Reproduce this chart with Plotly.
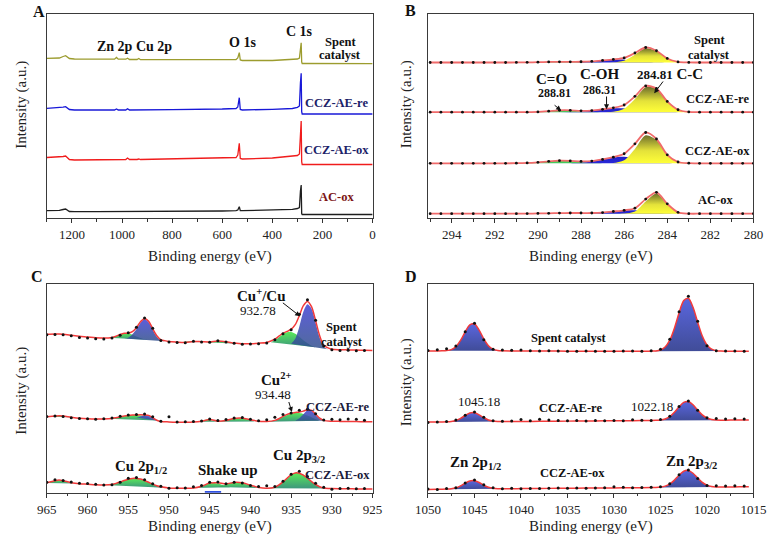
import plotly.graph_objects as go

W, H = 780, 541
FONT = "Liberation Serif"

# ================= Panel A: survey spectra =================
A_ENERGY = [1300, 1250, 1235, 1225, 1210, 1190, 1100, 1030, 1022, 1015, 985, 978, 970, 940, 933, 926,
            800, 600, 545, 538, 532, 528, 520, 400, 320, 300, 292, 288, 285, 283, 281, 270, 150, 0]
A_SPENT = [159.7, 160, 161.5, 162.3, 159.5, 159, 158.8, 158.8, 160.5, 158.8, 158.8, 159.8, 158.5, 158.5, 159.5, 158.3,
           158.3, 158, 158.5, 160, 165.3, 158, 157.5, 157.5, 158.5, 159, 160, 170, 175.3, 156, 154.5, 154.5, 154.3, 154.3]
A_RE = [109.7, 110, 110.8, 111.3, 108.5, 108, 108, 108, 109, 108, 108, 109.3, 108, 108, 108.7, 108,
        108.3, 109, 109.5, 111, 120.3, 108.5, 108, 108.7, 109.5, 110.7, 112, 135, 144.7, 106.3, 104, 104, 104, 104]
A_OX = [60.5, 60.8, 61.5, 62, 58.5, 58, 58.3, 58.5, 59, 58.5, 58.5, 60, 58.5, 58.5, 59, 58.5,
        59, 59.8, 60.5, 63, 74.7, 59.5, 59, 60, 61.5, 62.5, 64, 88, 97, 56.3, 53.5, 53.5, 53.5, 53.5]
A_ACOX = [7.3, 7.6, 8.5, 9, 6.5, 6.3, 6.3, 6.3, 6.6, 6.3, 6.3, 7, 6.3, 6.3, 6.5, 6.3,
          6.5, 7, 7.3, 8, 11.3, 7.3, 7.3, 7.8, 8.7, 9.5, 10.5, 27, 33, 4.5, 3.5, 3.5, 3.5, 3.5]

# ================= Panel B: C 1s =================
B_ENERGY = [295.0, 294.5, 294.0, 293.5, 293.0, 292.5, 292.0, 291.5, 291.0, 290.5, 290.0, 289.5, 289.0, 288.5,
            288.0, 287.5, 287.0, 286.5, 286.0, 285.5, 285.0, 284.5, 284.0, 283.5, 283.0, 282.5, 282.0, 281.5,
            281.0, 280.5, 280.0]
B_BASELINE = [155.5, 105.8, 54.7, 4.3]   # spent, re, ox, AC-ox
B_SPENT = [0, 0, 0, 0, 0, 0, 0, 0, 0.03, 0.15, 0.3, 0.55, 0.7, 0.72, 0.75, 1.15, 2.05, 3.1, 4.6, 9.5, 15.0,
           11.75, 4.05, 0.6, 0.05, 0, 0, 0, 0, 0, 0]
B_RE = [0, 0, 0, 0, 0, 0, 0, 0, 0, 0.04, 0.27, 1.01, 1.89, 1.9, 1.36, 1.67, 2.9, 4.34, 7.22, 15.83, 26.24,
        23.72, 10.8, 2.45, 0.27, 0.02, 0, 0, 0, 0, 0]
B_OX = [0, 0, 0, 0, 0, 0, 0, 0.01, 0.08, 0.35, 1.01, 1.96, 2.58, 2.41, 1.91, 2.24, 3.87, 6.14, 9.57, 19.47,
        30.81, 24.31, 8.46, 1.28, 0.08, 0, 0, 0, 0, 0, 0]
B_ACOX = [0, 0, 0, 0, 0, 0, 0, 0.01, 0.03, 0.09, 0.23, 0.42, 0.62, 0.7, 0.68, 0.7, 1.17, 2.21, 3.39, 5.49,
          14.59, 21.34, 9.87, 1.35, 0.05, 0, 0, 0, 0, 0, 0]

# fitted components (energy, height above baseline)
B_SPENT_CO = ([291, 290.5, 290, 289.5, 289, 288.5, 288, 287.5, 287, 286.5],
              [0, 0.15, 0.3, 0.55, 0.7, 0.65, 0.45, 0.2, 0.05, 0])
B_SPENT_COH = ([289, 288.5, 288, 287.5, 287, 286.5, 286, 285.5, 285, 284.5, 284, 283.5],
               [0, 0.07, 0.3, 0.95, 2.0, 2.9, 2.8, 1.8, 0.8, 0.25, 0.05, 0])
B_SPENT_CC = ([287, 286.5, 286, 285.5, 285, 284.5, 284, 283.5, 283, 282.5],
              [0, 0.2, 1.8, 7.7, 14.2, 11.5, 4.0, 0.6, 0.05, 0])
B_RE_CO = ([291, 290.5, 290, 289.5, 289, 288.5, 288, 287.5, 287, 286.5],
           [0, 0.04, 0.27, 1.01, 1.89, 1.76, 0.82, 0.19, 0.02, 0])
B_RE_COH = ([289, 288.5, 288, 287.5, 287, 286.5, 286, 285.5, 285, 284.5, 284, 283.5, 283],
            [0, 0.14, 0.54, 1.48, 2.85, 3.89, 3.76, 2.57, 1.24, 0.42, 0.1, 0.02, 0])
B_RE_CC = ([287.5, 287, 286.5, 286, 285.5, 285, 284.5, 284, 283.5, 283, 282.5, 282],
           [0, 0.03, 0.45, 3.46, 13.26, 25.0, 23.3, 10.7, 2.43, 0.27, 0.02, 0])
B_OX_CO = ([291.5, 291, 290.5, 290, 289.5, 289, 288.5, 288, 287.5, 287, 286.5, 286],
           [0, 0.08, 0.35, 1.01, 1.96, 2.58, 2.29, 1.38, 0.56, 0.15, 0.03, 0])
B_OX_COH = ([289, 288.5, 288, 287.5, 287, 286.5, 286, 285.5, 285, 284.5, 284, 283.5, 283],
            [0, 0.12, 0.53, 1.68, 3.71, 5.82, 6.45, 5.07, 2.81, 1.11, 0.31, 0.06, 0])
B_OX_CC = ([287.5, 287, 286.5, 286, 285.5, 285, 284.5, 284, 283.5, 283, 282.5],
           [0, 0.01, 0.29, 3.12, 14.4, 28.0, 23.2, 8.15, 1.22, 0.08, 0])
B_ACOX_CO = ([291.5, 291, 290.5, 290, 289.5, 289, 288.5, 288, 287.5, 287, 286.5, 286, 285.5],
             [0, 0.03, 0.09, 0.23, 0.42, 0.62, 0.7, 0.62, 0.42, 0.23, 0.09, 0.03, 0])
B_ACOX_COH = ([288.5, 288, 287.5, 287, 286.5, 286, 285.5, 285, 284.5, 284, 283.5, 283],
              [0, 0.06, 0.28, 0.94, 2.12, 3.26, 3.39, 2.39, 1.14, 0.37, 0.08, 0])
B_ACOX_CC = ([287, 286.5, 286, 285.5, 285, 284.5, 284, 283.5, 283, 282.5],
             [0, 0.0, 0.1, 2.1, 12.2, 20.2, 9.5, 1.27, 0.05, 0])

# ================= Panel C: Cu 2p =================
C_ENERGY = [965, 964, 963.5, 963, 962, 961, 960, 959, 958, 957, 956.5, 956, 955.5, 955, 954.5, 954, 953.5, 953,
            952.5, 952, 951.5, 951, 950, 949, 948, 947, 946, 945, 944, 943, 942, 941, 940, 939, 938, 937, 936.5,
            936, 935.5, 935, 934.5, 934, 933.5, 933, 932.5, 932, 931.5, 931, 930, 929, 928, 927, 926, 925]
C_SPENT_FIT = [158.4, 158.6, 158.8, 158.5, 157.5, 156.5, 155.8, 155.0, 154.6, 155.2, 156.5, 158.3, 159.4, 159.5,
               161, 165, 171, 174.3, 171.5, 164, 157, 153, 151.2, 150.6, 150.3, 151.3, 151.0, 150.8, 151.6, 151.0,
               149.7, 148.9, 149.0, 149.5, 150.3, 153.5, 156.5, 159.5, 161.3, 163.5, 168, 177, 187, 191.3, 186,
               172, 157, 147.5, 143.5, 143, 142.8, 142.6, 142.4, 142.3]
C_RE_FIT = [76.0, 76.6, 76.9, 76.7, 75.5, 74.5, 73.9, 73.6, 73.7, 74.3, 75.0, 75.8, 76.6, 77.2, 77.6, 77.8, 77.9,
            77.8, 77.3, 75.0, 72.5, 71.3, 70.8, 70.5, 70.4, 70.6, 71.5, 73.3, 71.5, 72.3, 74.3, 74.5, 73.0, 71.4,
            71.2, 72.3, 74.0, 76.3, 78.3, 79.5, 80.2, 80.7, 81.6, 83.0, 82.3, 78.5, 74.5, 72.3, 71.5, 71.3, 71.2,
            71.1, 71.0, 71.0]
C_OX_FIT = [10.0, 12.0, 12.6, 12.0, 10.0, 8.9, 8.5, 8.0, 7.8, 8.3, 9.3, 10.7, 12.2, 13.5, 14.3, 14.3, 13.6, 12.2,
            10.4, 8.6, 7.0, 5.9, 4.8, 4.5, 4.4, 4.7, 6.5, 9.6, 10.0, 8.8, 10.3, 9.9, 7.5, 5.2, 4.4, 5.5, 7.8, 10.8,
            14.5, 18.0, 19.8, 19.5, 17.5, 14.5, 11.2, 8.2, 6.0, 4.8, 4.2, 4.0, 3.9, 3.8, 3.7, 3.7]
C_DOT_ENERGY = [965, 964, 963, 962, 961, 960, 959, 958, 957, 956, 955, 954, 953, 952, 951, 950, 949, 948, 947, 946,
                945, 944, 943, 942, 941, 940, 939, 938, 937, 936, 935, 934, 933, 932, 931, 930, 929, 928, 927, 926]
C_SPENT_RAW = [158.0, 158.3, 158.0, 157.0, 155.3, 154.7, 154.0, 153.8, 154.8, 157.5, 160.0, 165.5, 174.8, 164.5,
               152.2, 150.8, 150.3, 150.0, 151.5, 150.6, 150.5, 151.9, 150.7, 149.4, 148.5, 148.6, 149.0, 149.7,
               153.0, 159.0, 163.0, 178.5, 193.0, 172.5, 146.8, 143.0, 142.3, 142.5, 142.0, 142.2]
C_RE_RAW = [76.3, 76.8, 76.2, 75.0, 74.3, 74.0, 73.5, 74.0, 74.8, 76.5, 77.8, 78.2, 78.6, 76.0, 71.5, 76.0, 70.8,
            71.0, 71.2, 71.6, 73.8, 72.3, 73.3, 74.8, 75.3, 73.5, 72.0, 73.0, 75.5, 78.3, 79.8, 82.5, 83.4, 79.0,
            72.8, 73.5, 73.0, 73.8, 73.5, 72.5]
C_OX_RAW = [10.5, 13.0, 12.2, 10.8, 9.5, 9.2, 8.5, 7.8, 8.0, 10.5, 14.5, 15.2, 13.0, 9.0, 6.5, 4.5, 5.0, 4.6, 6.0,
            7.2, 10.5, 10.6, 9.0, 10.5, 9.6, 7.2, 6.2, 7.0, 6.3, 11.5, 18.5, 21.5, 16.3, 9.5, 5.4, 3.5, 4.3, 4.5,
            4.0, 4.2]

# fitted components (energy, intensity)
C_SPENT_SAT = ([957.5, 957, 956.5, 956, 955.5, 955, 954.5, 954, 953.5, 953, 952.5],
               [155.0, 155.5, 156.5, 158.2, 159.3, 159.2, 158.0, 156.3, 154.8, 153.5, 153.0])
C_SPENT_P12 = ([955.5, 955, 954.5, 954, 953.5, 953, 952.5, 952, 951.5, 951, 950.5],
               [154.2, 155.0, 158.5, 163.5, 170.0, 173.5, 170.5, 163.0, 156.0, 152.5, 151.5])
C_SPENT_SH1 = ([949, 948, 947, 946, 945.5], [150.5, 151.0, 151.6, 151.0, 150.6])
C_SPENT_SH2 = ([945.5, 944.5, 943.5, 942.5, 941.5], [150.5, 151.5, 151.4, 150.0, 148.9])
C_SPENT_CU2 = ([937.5, 937, 936.5, 936, 935.5, 935, 934.5, 934, 933.5, 933, 932.5, 932],
               [150.5, 152.5, 155.5, 158.5, 160.5, 160.8, 159.0, 156.0, 152.5, 149.5, 147.0, 145.5])
C_SPENT_CU1 = ([935, 934.5, 934, 933.5, 933, 932.5, 932, 931.5, 931, 930.5],
               [149.0, 154.0, 166.0, 181.0, 188.5, 184.0, 170.0, 155.0, 146.0, 143.5])
C_RE_EDGE = ([965, 964.5, 964, 963.5, 963, 962.5, 962], [75.9, 76.3, 76.6, 76.9, 76.6, 76.0, 75.5])
C_RE_SAT = ([957.5, 957, 956, 955, 954, 953, 952.5, 952, 951.5],
            [73.9, 74.3, 75.8, 77.2, 77.6, 76.6, 75.5, 73.5, 72.3])
C_RE_P12 = ([954, 953.5, 953, 952.5, 952, 951.5, 951.2], [75.2, 76.3, 77.5, 77.2, 75.0, 72.8, 71.8])
C_RE_SH1 = ([946.3, 945.8, 945.2, 944.6, 944], [71.0, 72.3, 73.2, 72.0, 70.9])
C_RE_SH2 = ([944, 943.5, 943, 942, 941, 940, 939.5], [70.9, 71.8, 72.5, 74.1, 74.3, 72.6, 71.2])
C_RE_CU2 = ([938, 937, 936, 935, 934.5, 934, 933.5, 933, 932.5, 932, 931.5],
            [71.0, 72.2, 76.0, 79.2, 79.8, 79.7, 78.8, 77.2, 75.5, 73.5, 72.0])
C_RE_CU1 = ([934.5, 934, 933.5, 933, 932.5, 932, 931.5, 931], [72.0, 74.5, 78.5, 82.5, 81.8, 77.8, 74.0, 72.0])
C_OX_EDGE = ([965, 964.5, 964, 963.5, 963, 962.5, 962, 961.5], [9.8, 11.0, 11.9, 12.5, 12.0, 10.8, 9.8, 9.2])
C_OX_SAT = ([958, 957, 956, 955.5, 955, 954.5, 954, 953.5, 953, 952, 951, 950.5],
            [7.6, 8.2, 10.6, 12.1, 13.4, 14.2, 14.2, 13.5, 12.1, 8.5, 5.8, 5.0])
C_OX_SH1 = ([947, 946, 945.5, 945, 944.5, 944, 943.5, 943, 942.5], [4.6, 6.4, 8.0, 9.4, 9.8, 9.2, 8.0, 6.6, 5.5])
C_OX_SH2 = ([944, 943.5, 943, 942.5, 942, 941.5, 941, 940, 939, 938.5],
            [5.8, 6.9, 8.2, 9.6, 10.1, 10.0, 9.5, 7.3, 5.1, 4.6])
C_OX_CU2 = ([938, 937, 936.5, 936, 935.5, 935, 934.5, 934, 933.5, 933, 932.5, 932, 931, 930.5],
            [4.4, 5.4, 7.7, 10.7, 14.3, 17.8, 19.6, 19.3, 17.3, 14.3, 11.0, 8.0, 4.7, 4.3])
C_BASE_MARK = ([945.6, 943.6], [0.7, 0.7])

# ================= Panel D: Zn 2p =================
D_ENERGY = [1050, 1049, 1048.5, 1048, 1047.5, 1047, 1046.5, 1046, 1045.5, 1045, 1044.5, 1044, 1043.5, 1043,
            1042.5, 1042, 1041, 1040, 1038, 1036, 1034, 1032, 1030, 1028, 1026, 1025.5, 1025, 1024.5, 1024,
            1023.5, 1023, 1022.5, 1022, 1021.5, 1021, 1020.5, 1020, 1019.5, 1019, 1018.5, 1018, 1017, 1016, 1015.5]
D_SPENT_FIT = [141.8, 141.8, 141.85, 142.1, 143.1, 146.1, 152.25, 160.85, 167.9, 168.7, 162.6, 153.85, 147.05,
               143.5, 142.2, 141.9, 141.8, 141.8, 141.7, 141.6, 141.5, 141.5, 141.5, 141.5, 141.56, 141.8, 142.76,
               145.67, 152.5, 164.55, 179.8, 192.1, 194.45, 185.5, 170.5, 156.7, 147.8, 143.58, 142.05, 141.61,
               141.5, 141.5, 141.5, 141.5]
D_RE_FIT = [70.6, 70.7, 70.75, 70.85, 71.2, 72.2, 74.3, 77.2, 79.7, 80.0, 77.9, 75.0, 72.75, 71.6, 71.2, 71.1,
            71.15, 71.2, 71.35, 71.5, 71.65, 71.8, 71.9, 72.05, 72.22, 72.35, 72.7, 73.75, 76.2, 80.5, 85.9, 90.3,
            91.1, 87.9, 82.65, 77.8, 74.65, 73.2, 72.7, 72.55, 72.55, 72.65, 72.75, 72.8]
D_OX_FIT = [3.3, 3.4, 3.45, 3.6, 3.95, 4.93, 6.87, 9.55, 11.75, 12.0, 10.15, 7.48, 5.42, 4.36, 4.0, 3.93, 4.0,
            4.1, 4.25, 4.4, 4.55, 4.7, 4.8, 4.95, 5.12, 5.25, 5.6, 6.55, 8.75, 12.6, 17.5, 21.45, 22.25, 19.45,
            14.7, 10.35, 7.55, 6.25, 5.8, 5.7, 5.7, 5.8, 5.9, 5.95]
D_PEAK_WINDOWS = [(1048.5, 1042), (1026, 1018.5)]
D_DOT_ENERGY = [1050, 1049, 1048, 1047, 1046, 1045, 1044, 1043, 1042, 1041, 1040, 1039, 1038, 1037, 1036, 1035,
                1034, 1033, 1032, 1031, 1030, 1029, 1028, 1027, 1026, 1025, 1024, 1023, 1022, 1021, 1020, 1019,
                1018, 1017, 1016]
D_SPENT_RAW = [142.3, 143.0, 144.0, 146.8, 161.0, 169.5, 153.0, 143.5, 142.8, 142.5, 142.6, 142.0, 141.6, 141.9,
               141.7, 141.4, 141.5, 141.6, 141.5, 141.5, 141.5, 141.8, 141.6, 141.4, 142.0, 143.5, 153.5, 181.0,
               196.5, 171.5, 147.0, 142.0, 141.8, 141.6, 141.5]
D_RE_RAW = [70.3, 70.8, 71.3, 72.8, 77.5, 80.6, 75.5, 72.0, 71.4, 71.6, 73.3, 72.0, 73.5, 72.6, 72.3, 72.0, 72.3,
            71.8, 72.1, 71.9, 72.3, 72.0, 72.9, 72.5, 72.3, 73.2, 76.5, 86.2, 91.7, 82.5, 75.0, 74.2, 73.6, 74.0,
            73.7]
D_OX_RAW = [3.8, 3.2, 4.2, 5.0, 9.8, 12.6, 8.0, 5.0, 4.0, 4.5, 4.0, 4.3, 4.1, 4.4, 4.6, 4.4, 4.7, 4.5, 4.6, 4.9,
            6.0, 5.5, 4.9, 5.2, 5.4, 6.0, 9.0, 18.0, 22.6, 14.3, 7.3, 7.0, 6.8, 7.0, 6.6]

# ================= styling =================
YELLOW_CS = [[0, '#ffff38'], [0.45, '#e4e23a'], [1, '#6f6f2c']]
BLUE_B_CS = [[0, '#2a2ad8'], [1, '#2020c8']]
GREEN_B_CS = [[0, '#3fbf5a'], [1, '#4ee05a']]
GREEN_C_CS = [[0, 'rgba(40,140,110,0.9)'], [1, 'rgba(80,232,80,0.95)']]
BLUE_C_CS = [[0, 'rgba(50,80,140,0.85)'], [1, 'rgba(75,75,215,0.9)']]
BLUE_D_CS = [[0, '#404c98'], [1, '#5a66de']]
FIT_RED = '#f23a3a'

fig = go.Figure()


def fill_trace(x, y, cs, xa, ya):
    fig.add_trace(go.Scatter(
        x=x, y=y, mode='lines', line=dict(width=0, shape='spline', smoothing=0.8),
        fill='toself', fillgradient=dict(type='vertical', colorscale=cs, start=min(y), stop=max(y)),
        xaxis=xa, yaxis=ya, hoverinfo='skip', showlegend=False))


def line_trace(x, y, color, width, xa, ya, shape='linear'):
    fig.add_trace(go.Scatter(x=x, y=y, mode='lines', line=dict(color=color, width=width, shape=shape,
                                                                smoothing=0.8),
                             xaxis=xa, yaxis=ya, hoverinfo='skip', showlegend=False))


def dot_trace(x, y, size, xa, ya):
    fig.add_trace(go.Scatter(x=x, y=y, mode='markers', marker=dict(color='#111', size=size),
                             xaxis=xa, yaxis=ya, hoverinfo='skip', showlegend=False))


# ---- A
for ys, col in zip([A_SPENT, A_RE, A_OX, A_ACOX], ['#9c9c2e', '#1818d8', '#f01c1c', '#1e1e1e']):
    line_trace(A_ENERGY, ys, col, 1.3, 'x', 'y')

# ---- B
B_SERIES = [B_SPENT, B_RE, B_OX, B_ACOX]
B_PARTS = [(B_SPENT_CO, B_SPENT_COH, B_SPENT_CC), (B_RE_CO, B_RE_COH, B_RE_CC),
           (B_OX_CO, B_OX_COH, B_OX_CC), (B_ACOX_CO, B_ACOX_COH, B_ACOX_CC)]
for base, series, parts in zip(B_BASELINE, B_SERIES, B_PARTS):
    for (ex, hy), cs in zip(parts, [GREEN_B_CS, BLUE_B_CS, YELLOW_CS]):
        fill_trace(ex, [base + v for v in hy], cs, 'x2', 'y2')
    ys = [base + v for v in series]
    line_trace(B_ENERGY, ys, '#f06a6a', 1.8, 'x2', 'y2', 'spline')
    dot_trace(B_ENERGY, ys, 2.8, 'x2', 'y2')

# ---- C
C_PARTS = [
    [(C_SPENT_SAT, GREEN_C_CS), (C_SPENT_P12, BLUE_C_CS), (C_SPENT_SH1, GREEN_C_CS), (C_SPENT_SH2, GREEN_C_CS),
     (C_SPENT_CU2, GREEN_C_CS), (C_SPENT_CU1, BLUE_C_CS)],
    [(C_RE_EDGE, GREEN_C_CS), (C_RE_SAT, GREEN_C_CS), (C_RE_P12, BLUE_C_CS), (C_RE_SH1, GREEN_C_CS),
     (C_RE_SH2, GREEN_C_CS), (C_RE_CU2, GREEN_C_CS), (C_RE_CU1, BLUE_C_CS)],
    [(C_OX_EDGE, GREEN_C_CS), (C_OX_SAT, GREEN_C_CS), (C_OX_SH1, GREEN_C_CS), (C_OX_SH2, GREEN_C_CS),
     (C_OX_CU2, GREEN_C_CS)],
]
for parts, fit, raw in zip(C_PARTS, [C_SPENT_FIT, C_RE_FIT, C_OX_FIT], [C_SPENT_RAW, C_RE_RAW, C_OX_RAW]):
    for (ex, ey), cs in parts:
        fill_trace(ex, ey, cs, 'x3', 'y3')
    line_trace(C_ENERGY, fit, FIT_RED, 1.5, 'x3', 'y3', 'spline')
    dot_trace(C_DOT_ENERGY, raw, 3, 'x3', 'y3')
line_trace(C_BASE_MARK[0], C_BASE_MARK[1], '#3050e0', 2, 'x3', 'y3')

# ---- D
for fit, raw in zip([D_SPENT_FIT, D_RE_FIT, D_OX_FIT], [D_SPENT_RAW, D_RE_RAW, D_OX_RAW]):
    for hi, lo in D_PEAK_WINDOWS:
        sel = [(e, v) for e, v in zip(D_ENERGY, fit) if lo <= e <= hi]
        fill_trace([s[0] for s in sel], [s[1] for s in sel], BLUE_D_CS, 'x4', 'y4')
    line_trace(D_ENERGY, fit, FIT_RED, 1.5, 'x4', 'y4', 'spline')
    dot_trace(D_DOT_ENERGY, raw, 3, 'x4', 'y4')


# ================= axes =================
def px_dom_x(a, b):
    return [a / W, b / W]


def px_dom_y(top, bottom):
    return [1 - bottom / H, 1 - top / H]


def xcfg(dom, rng, dtick, minor, anchor):
    return dict(domain=dom, range=rng, anchor=anchor, dtick=dtick, tick0=0,
                ticks='outside', ticklen=4, tickwidth=1, tickcolor='#333',
                minor=dict(ticks='outside', ticklen=2.5, dtick=minor, tick0=0, tickcolor='#333', tickwidth=1),
                showline=True, mirror=True, linecolor='#3a3a3a', linewidth=1.4,
                showgrid=False, zeroline=False,
                tickfont=dict(family=FONT, size=13, color='#222'))


def ycfg(dom, top, anchor):
    return dict(domain=dom, range=[0, top], anchor=anchor, showticklabels=False, ticks='',
                showline=True, mirror=True, linecolor='#3a3a3a', linewidth=1.4,
                showgrid=False, zeroline=False)


LX = px_dom_x(35, 372)
RX = px_dom_x(429.3, 766)
TY = px_dom_y(14, 218)
BY = px_dom_y(284, 492.7)

fig.update_layout(
    width=W, height=H, margin=dict(l=0, r=0, t=0, b=0),
    paper_bgcolor='white', plot_bgcolor='white', showlegend=False,
    xaxis=xcfg(LX, [1300, 0], 200, 100, 'y'),
    yaxis=ycfg(TY, 204, 'x'),
    xaxis2=xcfg(RX, [295.1, 280], 2, 1, 'y2'),
    yaxis2=ycfg(TY, 204, 'x2'),
    xaxis3=xcfg(LX, [965, 925], 5, 2.5, 'y3'),
    yaxis3=ycfg(BY, 208.7, 'x3'),
    xaxis4=xcfg(RX, [1050, 1015], 5, 2.5, 'y4'),
    yaxis4=ycfg(BY, 208.7, 'x4'),
)

# ================= text =================
NAVY = '#1c2268'
MAROON = '#7c1414'


def txt(x, y, s, size=12.5, bold=True, color='#111', angle=0):
    return dict(x=x / W, y=1 - y / H, xref='paper', yref='paper', text=f'<b>{s}</b>' if bold else s,
                showarrow=False, font=dict(family=FONT, size=size, color=color), xanchor='center',
                yanchor='middle', textangle=angle)


def arrow(x0, y0, x1, y1):
    return dict(x=x1 / W, y=1 - y1 / H, xref='paper', yref='paper', ax=x0 - x1, ay=y0 - y1,
                axref='pixel', ayref='pixel', text='', showarrow=True, arrowhead=2, arrowsize=1,
                arrowwidth=1, arrowcolor='#111')


ann = [
    # panel letters
    txt(27, 11.5, 'A', 16), txt(411.7, 10, 'B', 16), txt(25, 276.7, 'C', 16), txt(411.7, 276.7, 'D', 16),
    # axis titles
    txt(203.5, 256.7, 'Binding energy (eV)', 15, False, '#222'),
    txt(597.7, 256.7, 'Binding energy (eV)', 15, False, '#222'),
    txt(203.5, 526.7, 'Binding energy (eV)', 15, False, '#222'),
    txt(597.7, 526.7, 'Binding energy (eV)', 15, False, '#222'),
    txt(8, 105, 'Intensity (a.u.)', 15, False, '#222', -90),
    txt(406.7, 104, 'Intensity (a.u.)', 15, False, '#222', -90),
    txt(8, 391, 'Intensity (a.u.)', 15, False, '#222', -90),
    txt(406.7, 382, 'Intensity (a.u.)', 15, False, '#222', -90),
    # A
    txt(125.3, 46.7, 'Zn 2p Cu 2p', 14), txt(237.3, 42.7, 'O 1s', 14), txt(296.7, 31.7, 'C 1s', 14),
    txt(338.3, 41.7, 'Spent'), txt(338.3, 55, 'catalyst'),
    txt(335, 103.3, 'CCZ-AE-re', 12.5, True, NAVY), txt(335, 150, 'CCZ-AE-ox', 12.5, True, NAVY),
    txt(335, 197.3, 'AC-ox', 12.5, True, MAROON),
    # B
    txt(720, 40, 'Spent'), txt(720, 55, 'catalyst'),
    txt(556.7, 79.3, 'C=O', 15), txt(560, 92.7, '288.81', 12),
    txt(606.7, 74.3, 'C-OH', 15), txt(606.7, 90, '286.31', 12),
    txt(680, 74.3, "<span style='font-size:13px'>284.81</span> C-C", 15),
    txt(728.3, 99, 'CCZ-AE-re'), txt(728.3, 150.7, 'CCZ-AE-ox'), txt(726.7, 200, 'AC-ox'),
    arrow(559, 104, 567, 110.5), arrow(614, 95, 614, 109.3), arrow(673.3, 80, 663.3, 93.3),
    # C
    txt(256.7, 295, 'Cu<sup>+</sup>/Cu', 15), txt(253.3, 310.7, '932.78', 13, False),
    txt(340, 327.3, 'Spent'), txt(340, 341.7, 'catalyst'),
    txt(271.7, 379, 'Cu<sup>2+</sup>', 15), txt(269, 394, '934.48', 13, False),
    txt(336, 406.7, 'CCZ-AE-re', 12.5, True, '#1a1a3a'),
    txt(132, 467, 'Cu 2p<sub>1/2</sub>', 15), txt(222.5, 470, 'Shake up', 15),
    txt(296, 455.5, 'Cu 2p<sub>3/2</sub>', 15), txt(336, 475, 'CCZ-AE-ox', 12.5, True, '#1a1a3a'),
    arrow(278.3, 301.7, 297, 316.3), arrow(285, 400.5, 288.5, 412),
    # D
    txt(575, 338.3, 'Spent catalyst'), txt(481.7, 401.7, '1045.18', 13, False),
    txt(576.7, 408.3, 'CCZ-AE-re'), txt(661, 406.7, '1022.18', 13, False),
    txt(478.3, 463, 'Zn 2p<sub>1/2</sub>', 15), txt(578.3, 473.3, 'CCZ-AE-ox'),
    txt(701.7, 462, 'Zn 2p<sub>3/2</sub>', 15),
]
fig.update_layout(annotations=ann)

fig.write_html("out.html", config={'displayModeBar': False},
               post_script="document.body.style.margin='0';")
